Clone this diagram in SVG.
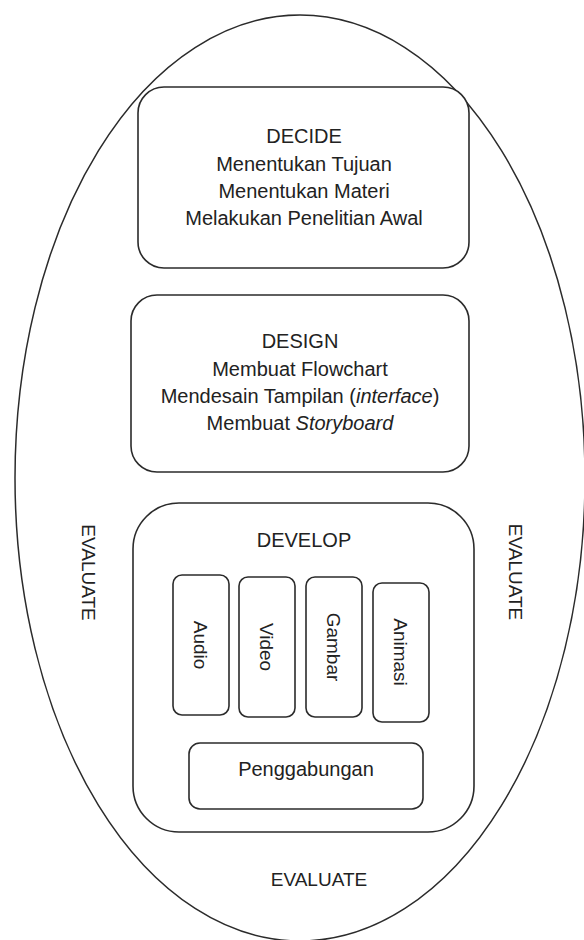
<svg xmlns="http://www.w3.org/2000/svg" width="584" height="940" viewBox="0 0 584 940">
  <style>
    .frame { fill: none; stroke: #2b2b2b; stroke-width: 1.5; }
    .box { fill: #ffffff; stroke: #2b2b2b; stroke-width: 1.6; }
    text { font-family: "Liberation Sans", Arial, sans-serif; fill: #222222; }
    .t { font-size: 20px; text-anchor: middle; }
    .s { font-size: 19px; text-anchor: middle; }
    .ev { font-size: 19px; text-anchor: middle; }
  </style>
  <rect width="584" height="940" fill="#ffffff"/>

  <!-- outer evaluation cycle -->
  <g id="evaluate">
    <ellipse class="frame" cx="300" cy="478" rx="285" ry="463"/>
    <text class="ev" transform="translate(82 572.5) rotate(90)">EVALUATE</text>
    <text class="ev" transform="translate(509 572) rotate(90)">EVALUATE</text>
    <text class="ev" x="319" y="886">EVALUATE</text>
  </g>

  <g id="decide">
    <rect class="box" x="138" y="87" width="331" height="181" rx="26"/>
    <text class="t" x="304" y="143">DECIDE</text>
    <text class="t" x="304" y="171">Menentukan Tujuan</text>
    <text class="t" x="304" y="198">Menentukan Materi</text>
    <text class="t" x="304" y="225">Melakukan Penelitian Awal</text>
  </g>

  <g id="design">
    <rect class="box" x="131" y="295" width="338" height="177" rx="26"/>
    <text class="t" x="300" y="348">DESIGN</text>
    <text class="t" x="300" y="376">Membuat Flowchart</text>
    <text class="t" x="300" y="403">Mendesain Tampilan (<tspan font-style="italic">interface</tspan>)</text>
    <text class="t" x="300" y="430">Membuat <tspan font-style="italic">Storyboard</tspan></text>
  </g>

  <g id="develop">
    <rect class="box" x="133" y="503" width="341" height="329" rx="46"/>
    <text class="t" x="304" y="547">DEVELOP</text>
  </g>

  <g id="audio">
    <rect class="box" x="173" y="575" width="56" height="140" rx="9"/>
    <text class="s" transform="translate(194 645) rotate(90)">Audio</text>
  </g>
  <g id="video">
    <rect class="box" x="239" y="577" width="56" height="140" rx="9"/>
    <text class="s" transform="translate(260 647) rotate(90)">Video</text>
  </g>
  <g id="gambar">
    <rect class="box" x="306" y="577" width="56" height="140" rx="9"/>
    <text class="s" transform="translate(327 647) rotate(90)">Gambar</text>
  </g>
  <g id="animasi">
    <rect class="box" x="373" y="583" width="56" height="139" rx="9"/>
    <text class="s" transform="translate(394 652) rotate(90)">Animasi</text>
  </g>

  <g id="penggabungan">
    <rect class="box" x="189" y="743" width="234" height="66" rx="11"/>
    <text class="t" x="306" y="776">Penggabungan</text>
  </g>

  <!-- the stages are nested, no connector lines -->
  <g id="connectors"/>
</svg>
